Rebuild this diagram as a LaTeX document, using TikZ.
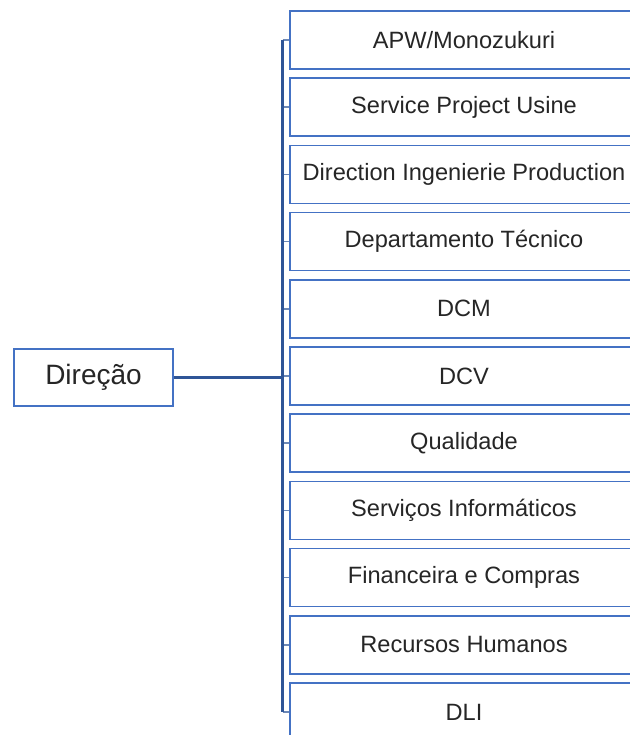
\documentclass[tikz,border=0pt]{standalone}
\usepackage{fontspec}
\setmainfont{Liberation Sans}
\definecolor{boxblue}{HTML}{4472C4}
\definecolor{linkblue}{HTML}{2F5597}
\begin{document}
\begin{tikzpicture}[x=0.75pt,y=-0.75pt,
  unit/.style={draw=boxblue,line width=1.2pt,fill=white,minimum width=261pt,minimum height=43.5pt,
    inner sep=0pt,font=\fontsize{17.7}{20}\selectfont,text=black!85},
  head/.style={draw=boxblue,line width=1.2pt,fill=white,minimum width=119pt,minimum height=42.75pt,
    inner sep=0pt,font=\fontsize{21}{24}\selectfont,text=black!85},
  trunk/.style={draw=linkblue,line width=1.8pt},
  stub/.style={draw=linkblue!70!white,line width=1.1pt}]
\clip (0,0) rectangle (630,735);
\fill[white] (0,0) rectangle (630,735);
% top of the tree
\node[head] (dir) at (93.5,377.5) {Direção};
% departments, one every 67.2 px
\foreach \t [count=\i from 0] in {APW/Monozukuri,Service Project Usine,Direction Ingenierie Production,
  Departamento Técnico,DCM,DCV,Qualidade,Serviços Informáticos,Financeira e Compras,Recursos Humanos,DLI}{
  \node[unit] (d\i) at (464,{40+67.2*\i}) {\t};
}
% branch line and stubs
\coordinate (top) at (282.5,40);
\coordinate (bot) at (282.5,712);
\foreach \i in {0,...,10}{
  \draw[stub] (282.5,{40+67.2*\i}) -- (d\i.west);
}
\draw[trunk] (top) -- (bot);
\draw[trunk,line width=2pt] (dir.east) -- (dir.east -| top);
\end{tikzpicture}
\end{document}
